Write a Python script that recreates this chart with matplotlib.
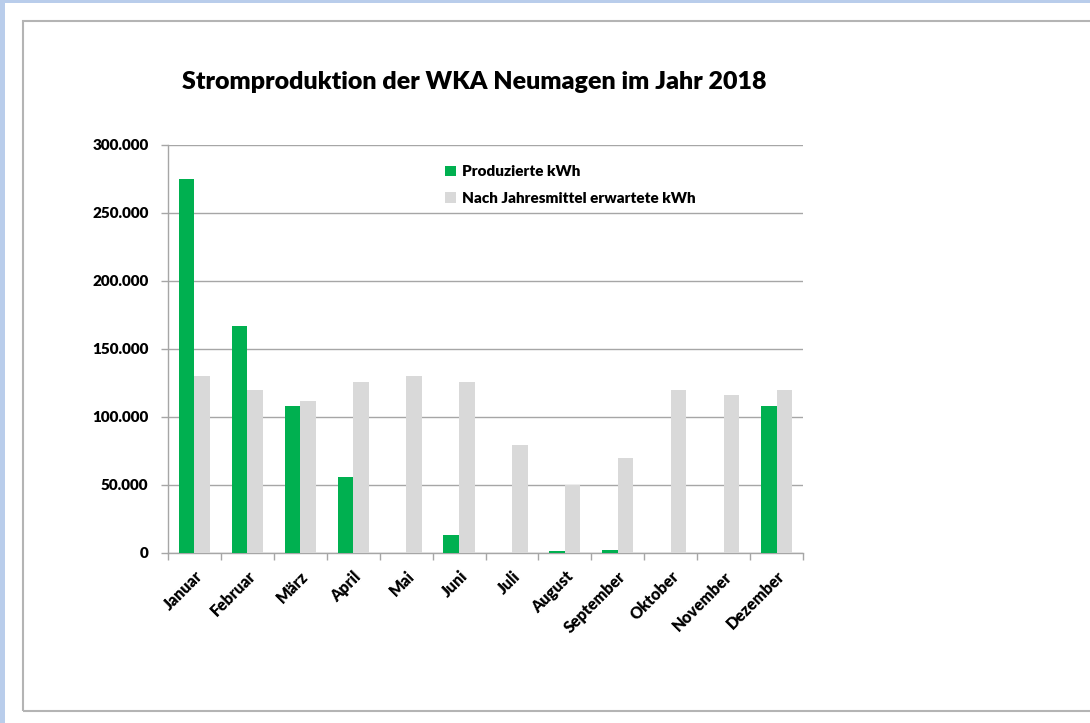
import matplotlib.pyplot as plt
from matplotlib.patches import Rectangle
from matplotlib.ticker import FuncFormatter, FixedLocator
import numpy as np

plt.rcParams['font.family'] = ['Lato', 'DejaVu Sans']
plt.rcParams['font.weight'] = 'heavy'

monate = ['Januar', 'Februar', 'März', 'April', 'Mai', 'Juni', 'Juli',
          'August', 'September', 'Oktober', 'November', 'Dezember']
produziert = [275000, 167000, 108000, 56000, 0, 13000, 0, 1300, 2300, 0, 0, 108000]
erwartet = [130000, 120000, 112000, 125500, 130000, 125500, 79500, 50000, 70000, 120000, 116000, 120000]

fig = plt.figure(figsize=(10.9, 7.23), dpi=100, facecolor='#b9cdeb')
fig.patches.append(Rectangle((5 / 1090, 0), 1, 1 - 3 / 723, transform=fig.transFigure,
                             facecolor='white', edgecolor='none', zorder=-2))
fig.patches.append(Rectangle((23 / 1090, 1 - 711 / 723), 1.1, (711 - 21) / 723,
                             transform=fig.transFigure, facecolor='none',
                             edgecolor='#b4b4b4', linewidth=1.5, zorder=-1))

ax = fig.add_axes([168 / 1090, 1 - 553 / 723, 635 / 1090, 408 / 723])
ax.set_zorder(2)
ax.set_facecolor('none')

x = np.arange(len(monate))
w = 0.295
ax.bar(x - w / 2, produziert, w, color='#00b050', label='Produzierte kWh', zorder=3)
ax.bar(x + w / 2, erwartet, w, color='#d9d9d9', label='Nach Jahresmittel erwartete kWh', zorder=3)

ax.set_xlim(-0.5, len(monate) - 0.5)
ax.set_ylim(0, 300000)
ax.set_yticks(np.arange(0, 300001, 50000))
ax.yaxis.set_major_formatter(FuncFormatter(lambda v, p: f'{int(v):,}'.replace(',', '.')))
ax.grid(axis='y', color='#a6a6a6', linewidth=1, zorder=0)

ax.set_xticks(x)
ax.set_xticklabels(monate, rotation=45, ha='right', rotation_mode='anchor')
ax.xaxis.set_minor_locator(FixedLocator(np.arange(-0.5, len(monate), 1)))
ax.tick_params(axis='x', which='major', length=0, pad=11, labelsize=11.5)
ax.tick_params(axis='x', which='minor', length=5, color='#a6a6a6', width=1)
ax.tick_params(axis='y', length=5, color='#a6a6a6', width=1, pad=9, labelsize=11)

for s in ['top', 'right']:
    ax.spines[s].set_visible(False)
for s in ['left', 'bottom']:
    ax.spines[s].set_color('#a6a6a6')
    ax.spines[s].set_linewidth(1)

ax.legend(loc='upper left', bbox_to_anchor=(0.436, 0.95), frameon=False,
          fontsize=11, handlelength=0.7, handleheight=0.7, handletextpad=0.4,
          labelspacing=0.9, borderpad=0, borderaxespad=0)

fig.text(474 / 1090, 1 - 82 / 723, 'Stromproduktion der WKA Neumagen im Jahr 2018',
         ha='center', va='center', fontsize=18)

fig.savefig('out.png', dpi=100, facecolor=fig.get_facecolor())
